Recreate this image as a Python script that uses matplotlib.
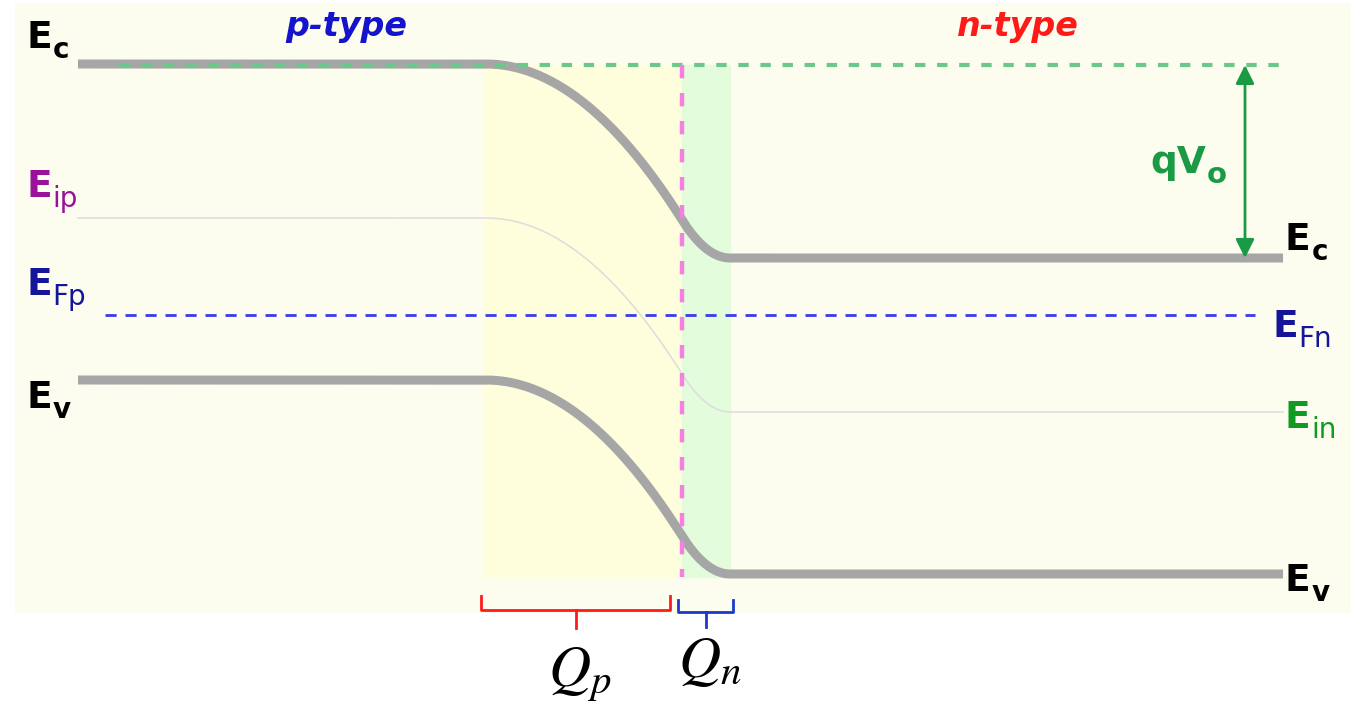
"""p-n junction band diagram at equilibrium."""

import numpy as np
import matplotlib.pyplot as plt
from matplotlib.patches import Rectangle

# canvas in pixels, y grows downward
W, H = 1351, 709

# junction geometry (x in px)
x_start = 78
x_p_edge = 486      # edge of p-side depletion
x_junction = 682    # metallurgical junction
x_n_edge = 730      # edge of n-side depletion
x_end = 1283

# band levels on the p side (y in px) and built-in drop
ec_p = 64
ei_p = 218
ev_p = 380
built_in_drop = 194
ef_level = 315

band_names = ["Ec", "Ei", "Ev"]
band_offsets = [ec_p, ei_p, ev_p]

# level labels: (x, baseline, subscript, colour, bold subscript)
level_labels = [
    (26, 48, "c", "black", True),
    (26, 197, "ip", "#9a129a", False),
    (26, 295, "Fp", "#15159a", False),
    (26, 408, "v", "black", True),
    (1285, 250, "c", "black", True),
    (1272, 337, "Fn", "#15159a", False),
    (1285, 428, "in", "#119a22", False),
    (1285, 591, "v", "black", True),
]


def band_bending(x):
    """Depletion approximation: parabola on each side of the junction."""
    wp = x_junction - x_p_edge
    wn = x_n_edge - x_junction
    frac_p = wp / (wp + wn)
    d = built_in_drop
    y = np.zeros_like(x, dtype=float)
    p = (x >= x_p_edge) & (x <= x_junction)
    n = (x > x_junction) & (x <= x_n_edge)
    y[p] = frac_p * d * ((x[p] - x_p_edge) / wp) ** 2
    y[n] = d - (1 - frac_p) * d * ((x_n_edge - x[n]) / wn) ** 2
    y[x > x_n_edge] = d
    return y


fig = plt.figure(figsize=(W / 100, H / 100), dpi=100)
ax = fig.add_axes([0, 0, 1, 1])
ax.set_xlim(0, W)
ax.set_ylim(H, 0)
ax.axis("off")
renderer = fig.canvas.get_renderer()


def sub_label(x, y, main, sub, color, size=27, sub_size=20, drop=10,
              sub_bold=True):
    t = ax.text(x, y, main, color=color, fontsize=size, fontweight="bold",
                ha="left", va="baseline")
    bb = t.get_window_extent(renderer).transformed(ax.transData.inverted())
    ax.text(max(bb.x0, bb.x1) + 1, y + drop, sub, color=color,
            fontsize=sub_size, fontweight="bold" if sub_bold else "normal",
            ha="left", va="baseline")


# backgrounds
ax.add_patch(Rectangle((15, 3), W - 15, 609, color="#fdfdef", zorder=0))
ax.add_patch(Rectangle((x_p_edge - 2, 65), x_junction - x_p_edge + 2, 512,
                       color="#fefedd", zorder=1))
ax.add_patch(Rectangle((x_junction, 65), x_n_edge - x_junction, 512,
                       color="#e2fcdc", zorder=1))

x = np.linspace(x_start, x_end, 800)
bend = band_bending(x)

# reference dashed lines
ax.plot([120, 1290], [65, 65], color="#6cc88a", lw=3.0,
        ls=(0, (2.5, 2.8)), zorder=4)
ax.plot([105, 1255], [ef_level, ef_level], color="#3a3af0", lw=2.0,
        ls=(0, (4.0, 3.2)), zorder=3)
ax.plot([x_junction, x_junction], [65, 577], color="#f77fe4", lw=3.2,
        ls=(0, (3.0, 3.3)), zorder=5)

# bands
for name, y0 in zip(band_names, band_offsets):
    if name == "Ei":
        ax.plot(x, y0 + bend, color="#dcdcdc", lw=1.1, zorder=2)
    else:
        ax.plot(x, y0 + bend, color="#a6a6a6", lw=6.5,
                solid_capstyle="butt", zorder=3)

# built-in potential arrow
ax.annotate("", xy=(1245, 258), xytext=(1245, 65),
            arrowprops=dict(arrowstyle="<|-|>", color="#1a9a44", lw=2.0,
                            mutation_scale=28, shrinkA=0, shrinkB=0),
            zorder=6)
sub_label(1150, 173, "qV", "o", "#1a9a44", size=27, sub_size=21, drop=10)

# region titles
ax.text(346, 36, "p-type", color="#1414cc", fontsize=24, fontweight="bold",
        fontstyle="italic", ha="center", va="baseline")
ax.text(1018, 36, "n-type", color="#ff1a1a", fontsize=24, fontweight="bold",
        fontstyle="italic", ha="center", va="baseline")

for lx, ly, sub, col, bold in level_labels:
    sub_label(lx, ly, "E", sub, col, sub_bold=bold)


def brace(x0, x1, y_top, y_bar, y_tip, color):
    xm = (x0 + x1) / 2
    ax.plot([x0, x0, x1, x1], [y_top, y_bar, y_bar, y_top], color=color,
            lw=2.0, solid_joinstyle="round", zorder=6)
    ax.plot([xm, xm], [y_bar, y_tip], color=color, lw=2.0, zorder=6)


brace(481, 670, 596, 610, 628, "#ff1a1a")
brace(678, 733, 600, 612, 627, "#1a3acc")

ax.text(548, 686, r"$Q_p$", fontsize=42, math_fontfamily="stix",
        ha="left", va="baseline")
ax.text(678, 677, r"$Q_n$", fontsize=42, math_fontfamily="stix",
        ha="left", va="baseline")

fig.savefig("out.png", dpi=100)
